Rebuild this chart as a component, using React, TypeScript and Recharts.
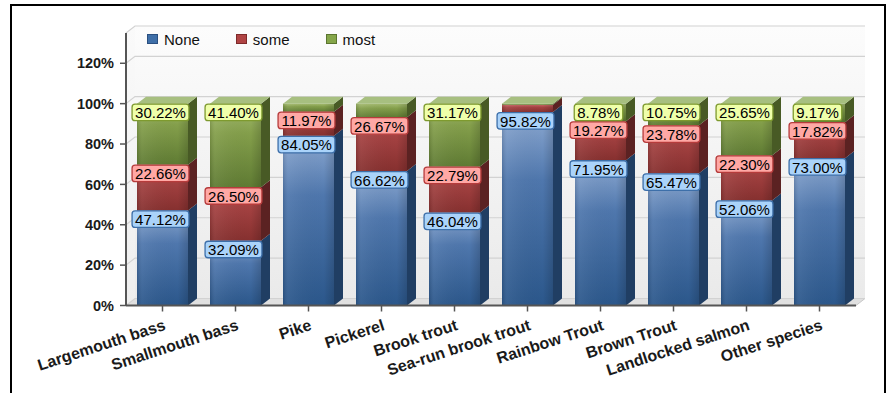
import React from 'react';
import { BarChart, Bar, XAxis, YAxis, CartesianGrid, LabelList } from 'recharts';

const categories = [
  'Largemouth bass',
  'Smallmouth bass',
  'Pike',
  'Pickerel',
  'Brook trout',
  'Sea-run brook trout',
  'Rainbow Trout',
  'Brown Trout',
  'Landlocked salmon',
  'Other species',
];
const noneValues = [47.12, 32.09, 84.05, 66.62, 46.04, 95.82, 71.95, 65.47, 52.06, 73.0];
const someValues = [22.66, 26.5, 11.97, 26.67, 22.79, 3.6, 19.27, 23.78, 22.3, 17.82];
const mostValues = [30.22, 41.4, 3.98, 6.71, 31.17, 0.58, 8.78, 10.75, 25.65, 9.17];
const yTicks = [0, 20, 40, 60, 80, 100, 120];
const seriesKeys = ['none', 'some', 'most'];
const seriesNames = ['None', 'some', 'most'];

const data = categories.map((name, i) => ({
  name,
  none: noneValues[i],
  some: someValues[i],
  most: mostValues[i],
}));

const W = 887;
const H = 393;
const DX = 9;
const DY = 7;
const FONT = '"Liberation Sans", Arial, sans-serif';

const STYLES: Record<string, any> = {
  none: {
    light: '#8eaad2', mid: '#4f77ad', dark: '#2b578b', side: '#203e63', top: '#7393c0',
    labelFill: '#aad3fa', labelStroke: '#3d6fa9', legend: '#3f6fa8', legendStroke: '#2a4f80',
  },
  some: {
    light: '#c46262', mid: '#a54242', dark: '#86302f', side: '#5b2222', top: '#bb6464',
    labelFill: '#ffa8a5', labelStroke: '#b63b3b', legend: '#b04444', legendStroke: '#7e2a2a',
  },
  most: {
    light: '#a4bb70', mid: '#849f4b', dark: '#5f7b33', side: '#485a25', top: '#a7bf80',
    labelFill: '#efffaa', labelStroke: '#7e9a2e', legend: '#85a64a', legendStroke: '#5b7530',
  },
};

function textWidth(s: string, fs: number) {
  let w = 0;
  for (const c of s) {
    if (c === '.') w += 0.278;
    else if (c === '%') w += 0.889;
    else w += 0.556;
  }
  return w * fs;
}

function make3D(key: string, isTop: boolean) {
  return (props: any) => {
    const { x, y, width, height } = props;
    if (height == null || width == null || height <= 0) return <g />;
    const s = STYLES[key];
    const r = x + width;
    return (
      <g>
        <rect x={x} y={y} width={width} height={height} fill={`url(#grad-${key})`} />
        <rect x={x} y={y} width={width} height={height} fill="url(#gradH)" />
        <polygon
          points={`${r},${y} ${r + DX},${y - DY} ${r + DX},${y + height - DY} ${r},${y + height}`}
          fill={s.side}
        />
        {isTop && (
          <polygon
            points={`${x},${y} ${x + DX},${y - DY} ${r + DX},${y - DY} ${r},${y}`}
            fill={s.top}
          />
        )}
      </g>
    );
  };
}

function makeLabel(key: string) {
  return (props: any) => {
    const vb = props.viewBox || {};
    const x = props.x ?? vb.x;
    const y = props.y ?? vb.y;
    const width = props.width ?? vb.width;
    const value = Number(props.value);
    if (!isFinite(value) || value < 8) return <g />;
    const s = STYLES[key];
    const text = value.toFixed(2) + '%';
    const bw = textWidth(text, 15) + 6;
    const cx = x + width / 2 - 2;
    return (
      <g>
        <rect
          x={cx - bw / 2}
          y={y + 0.5}
          width={bw}
          height={16.5}
          rx={3}
          ry={3}
          fill={s.labelFill}
          stroke={s.labelStroke}
          strokeWidth={1.3}
        />
        <text x={cx} y={y + 14.5} textAnchor="middle" fontSize={15} fontFamily={FONT} fill="#000">
          {text}
        </text>
      </g>
    );
  };
}

const GridLine = (props: any) => {
  const { x1, x2, y1, index } = props;
  const top = props.y ?? props.offset?.top ?? 33;
  const h = props.height ?? props.offset?.height ?? 272.5;
  const bottom = top + h;
  const left = x1;
  const right = x2;
  return (
    <g>
      {index === 0 && (
        <g>
          <polygon
            points={`${left + DX},${top - DY} ${right + DX},${top - DY} ${right + DX},${bottom - DY} ${left + DX},${bottom - DY}`}
            fill="url(#wallGrad)"
          />
          <polygon
            points={`${left},${top} ${left + DX},${top - DY} ${left + DX},${bottom - DY} ${left},${bottom}`}
            fill="url(#leftWallGrad)"
          />
          <polygon
            points={`${left},${bottom} ${left + DX},${bottom - DY} ${right + DX},${bottom - DY} ${right},${bottom}`}
            fill="#e0e0e0"
          />
          <line x1={right} y1={bottom} x2={right + DX} y2={bottom - DY} stroke="#c8c8c8" strokeWidth={1} />
        </g>
      )}
      <polyline
        points={`${left},${y1} ${left + DX},${y1 - DY} ${right + DX},${y1 - DY}`}
        fill="none"
        stroke="#d2d2d2"
        strokeWidth={1.2}
      />
    </g>
  );
};

const XTick = (props: any) => {
  const { x, y, payload } = props;
  const ax = x + 4;
  const ay = y + 16;
  return (
    <text
      x={ax}
      y={ay}
      transform={`rotate(-18 ${ax} ${ay})`}
      textAnchor="end"
      fontSize={16}
      fontWeight="bold"
      fontFamily={FONT}
      fill="#1a1a1a"
    >
      {payload.value}
    </text>
  );
};

const Legend3 = () => (
  <div
    style={{
      position: 'absolute',
      left: 147,
      top: 30,
      height: 18,
      display: 'flex',
      alignItems: 'center',
      fontFamily: FONT,
      fontSize: 15,
      color: '#111',
    }}
  >
    {seriesKeys.map((k, i) => (
      <div key={k} style={{ display: 'flex', alignItems: 'center', marginRight: 36 }}>
        <div
          style={{
            width: 11,
            height: 10,
            background: STYLES[k].legend,
            border: `1px solid ${STYLES[k].legendStroke}`,
            boxSizing: 'border-box',
            marginRight: 6,
          }}
        />
        <span>{seriesNames[i]}</span>
      </div>
    ))}
  </div>
);

export default function App() {
  return (
    <div style={{ position: 'absolute', left: 0, top: 0, width: W, height: H, background: '#fff', overflow: 'hidden' }}>
      <BarChart
        width={W}
        height={H}
        data={data}
        margin={{ top: 33, right: 31, bottom: 0, left: 0 }}
        barSize={51}
      >
        <defs>
          {seriesKeys.map((k) => (
            <linearGradient key={k} id={`grad-${k}`} x1="0" y1="0" x2="0" y2="1">
              <stop offset="0%" stopColor={STYLES[k].light} />
              <stop offset="35%" stopColor={STYLES[k].mid} />
              <stop offset="100%" stopColor={STYLES[k].dark} />
            </linearGradient>
          ))}
          <linearGradient id="gradH" x1="0" y1="0" x2="1" y2="0">
            <stop offset="0%" stopColor="#000" stopOpacity={0.12} />
            <stop offset="10%" stopColor="#fff" stopOpacity={0.06} />
            <stop offset="80%" stopColor="#000" stopOpacity={0} />
            <stop offset="100%" stopColor="#000" stopOpacity={0.15} />
          </linearGradient>
          <linearGradient id="wallGrad" x1="0" y1="0" x2="0" y2="1">
            <stop offset="0%" stopColor="#fcfcfc" />
            <stop offset="100%" stopColor="#eaeaea" />
          </linearGradient>
          <linearGradient id="leftWallGrad" x1="0" y1="0" x2="0" y2="1">
            <stop offset="0%" stopColor="#fafafa" />
            <stop offset="100%" stopColor="#eeeeee" />
          </linearGradient>
        </defs>
        <CartesianGrid vertical={false} horizontal={GridLine} />
        <XAxis
          dataKey="name"
          height={87.5}
          interval={0}
          tickSize={6}
          tickMargin={2}
          axisLine={{ stroke: '#555', strokeWidth: 2 }}
          tickLine={{ stroke: '#555', strokeWidth: 1.5 }}
          tick={<XTick />}
        />
        <YAxis
          width={126}
          domain={[0, 135]}
          ticks={yTicks}
          interval={0}
          tickFormatter={(v: number) => `${v}%`}
          tickSize={6}
          tickMargin={6}
          axisLine={{ stroke: '#555', strokeWidth: 2 }}
          tickLine={{ stroke: '#555', strokeWidth: 1.5 }}
          tick={{ fill: '#1a1a1a', fontSize: 14.5, fontWeight: 'bold', fontFamily: FONT }}
        />
        {seriesKeys.map((k, i) => (
          <Bar
            key={k}
            dataKey={k}
            name={seriesNames[i]}
            stackId="s"
            fill={STYLES[k].mid}
            isAnimationActive={false}
            shape={make3D(k, i === seriesKeys.length - 1)}
          >
            <LabelList dataKey={k} content={makeLabel(k)} />
          </Bar>
        ))}
      </BarChart>
      <Legend3 />
      <div
        style={{
          position: 'absolute',
          left: 9.5,
          top: 4,
          width: 876,
          height: 430,
          border: '2px solid #000',
          boxSizing: 'border-box',
          pointerEvents: 'none',
        }}
      />
    </div>
  );
}
